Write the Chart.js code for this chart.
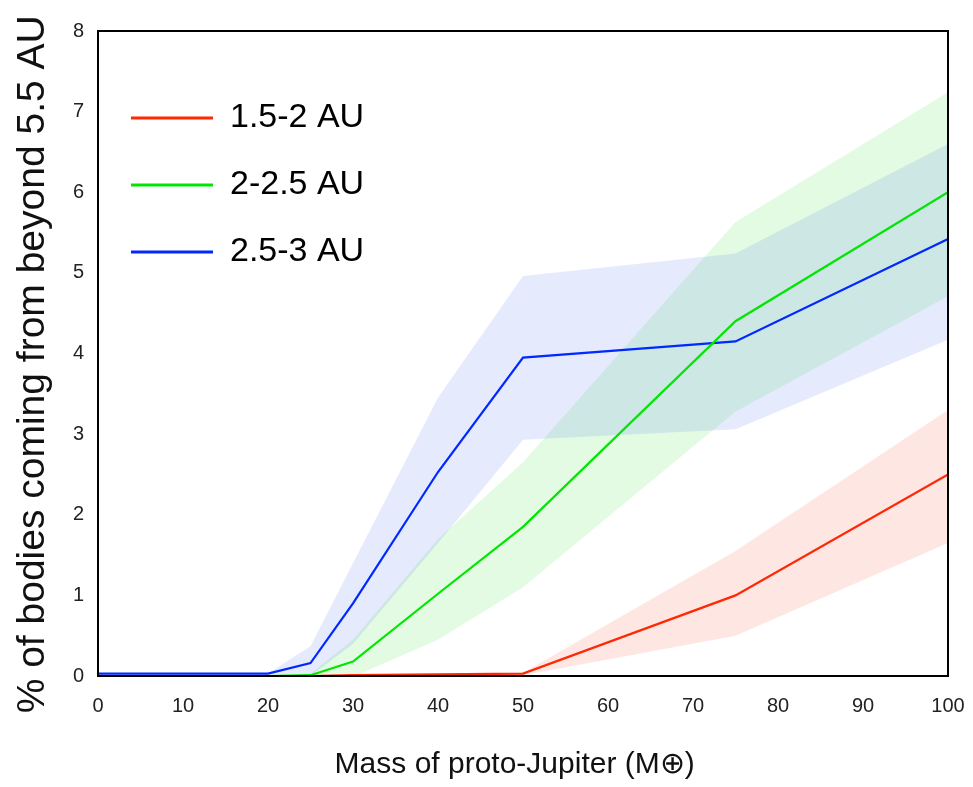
<!DOCTYPE html>
<html>
<head>
<meta charset="utf-8">
<script src="https://cdn.jsdelivr.net/npm/chart.js@4"></script>
<style>
html,body{margin:0;padding:0;background:#fff;}
#wrap{width:973px;height:787px;position:relative;}
</style>
</head>
<body>
<div id="wrap"><canvas id="c" width="973" height="787"></canvas></div>
<script>
// ---- data ----
const masses = [0, 20, 25, 30, 40, 50, 75, 100];
const seriesNames = ['1.5-2 AU', '2-2.5 AU', '2.5-3 AU'];
const red      = [0.00, 0.00, 0.00, 0.01, 0.02, 0.03, 1.00, 2.50];
const redUp    = [0.00, 0.00, 0.00, 0.01, 0.02, 0.04, 1.55, 3.30];
const redLo    = [0.00, 0.00, 0.00, 0.00, 0.00, 0.01, 0.50, 1.65];
const green    = [-0.02, 0.00, 0.01, 0.18, 1.02, 1.85, 4.40, 6.00];
const greenUp  = [-0.02, 0.00, 0.03, 0.45, 1.70, 2.65, 5.63, 7.24];
const greenLo  = [-0.02, -0.02, -0.01, -0.01, 0.45, 1.10, 3.28, 4.71];
const blue     = [0.03, 0.03, 0.16, 0.90, 2.53, 3.95, 4.15, 5.42];
const blueUp   = [0.03, 0.03, 0.37, 1.40, 3.45, 4.96, 5.24, 6.60];
const blueLo   = [0.02, 0.02, 0.00, 0.40, 1.65, 2.93, 3.06, 4.17];
const xTicks = [0, 10, 20, 30, 40, 50, 60, 70, 80, 90, 100];
const yTicks = [0, 1, 2, 3, 4, 5, 6, 7, 8];

const FONT = '"Liberation Sans Narrow", "Liberation Sans", Arial, sans-serif';
const pts = arr => arr.map((v, i) => ({x: masses[i], y: v}));

const colors = {
  red:   {line: 'rgb(255,40,5)',  fill: 'rgba(250,60,30,0.13)'},
  green: {line: 'rgb(0,230,0)',   fill: 'rgba(60,230,60,0.14)'},
  blue:  {line: 'rgb(0,40,255)',  fill: 'rgba(40,80,235,0.12)'}
};

function band(lo, up, fill) {
  return [
    {data: pts(lo), borderWidth: 0, pointRadius: 0, fill: false, isBand: true, order: 10},
    {data: pts(up), borderWidth: 0, pointRadius: 0, fill: '-1', backgroundColor: fill, isBand: true, order: 10}
  ];
}
function line(vals, name, c) {
  return {label: name, data: pts(vals), borderColor: c, backgroundColor: c, borderWidth: 2.2,
          pointRadius: 0, fill: false, tension: 0, order: 1};
}

const datasets = [
  ...band(blueLo, blueUp, colors.blue.fill),
  ...band(greenLo, greenUp, colors.green.fill),
  ...band(redLo, redUp, colors.red.fill),
  line(red, seriesNames[0], colors.red.line),
  line(green, seriesNames[1], colors.green.line),
  line(blue, seriesNames[2], colors.blue.line)
];

const frame = {
  id: 'frame',
  afterDatasetsDraw(chart) {
    const a = chart.chartArea, ctx = chart.ctx;
    ctx.save();
    ctx.strokeStyle = '#000';
    ctx.lineWidth = 2;
    ctx.strokeRect(a.left, a.top, a.right - a.left, a.bottom - a.top);
    ctx.restore();
  }
};

new Chart(document.getElementById('c'), {
  type: 'line',
  data: {datasets},
  plugins: [frame],
  options: {
    responsive: false,
    animation: false,
    layout: {padding: {top: 31, right: 25, left: 0, bottom: 0}},
    plugins: {
      tooltip: {enabled: false},
      legend: {
        position: 'chartArea',
        align: 'start',
        title: {display: true, text: ' ', font: {size: 10}, padding: {top: 56, bottom: 0}},
        labels: {
          boxWidth: 82,
          boxHeight: 3,
          padding: 33,
          color: '#000',
          font: {family: FONT, size: 34},
          generateLabels(chart) {
            return chart.data.datasets.map((d, i) => d.isBand ? null : {
              text: d.label, fillStyle: d.borderColor, strokeStyle: d.borderColor,
              fontColor: '#000', lineWidth: 0, datasetIndex: i, hidden: false
            }).filter(x => x);
          }
        }
      }
    },
    scales: {
      x: {
        type: 'linear', min: 0, max: 100,
        afterFit(s) { s.height = 111; s.paddingRight = 0; s.paddingLeft = 0; },
        grid: {display: false, drawTicks: false},
        border: {display: true, color: '#000', width: 2},
        afterBuildTicks(s) { s.ticks = xTicks.map(v => ({value: v})); },
        ticks: {color: '#222', font: {family: FONT, size: 20}, padding: 18, maxRotation: 0},
        title: {display: true, text: 'Mass of proto-Jupiter (M⊕)  ', color: '#111',
                font: {family: FONT, size: 30}, padding: {top: 22}}
      },
      y: {
        min: 0, max: 8,
        afterFit(s) { s.width = 98; s.paddingTop = 0; s.paddingBottom = 0; },
        grid: {display: false, drawTicks: false},
        border: {display: true, color: '#000', width: 2},
        afterBuildTicks(s) { s.ticks = yTicks.map(v => ({value: v})); },
        ticks: {color: '#222', font: {family: FONT, size: 20}, padding: 14},
        title: {display: true, text: '% of bodies coming from beyond 5.5 AU  ', color: '#111',
                font: {family: FONT, size: 39}, padding: {bottom: 0, top: 10}}
      }
    }
  }
});
</script>
</body>
</html>
